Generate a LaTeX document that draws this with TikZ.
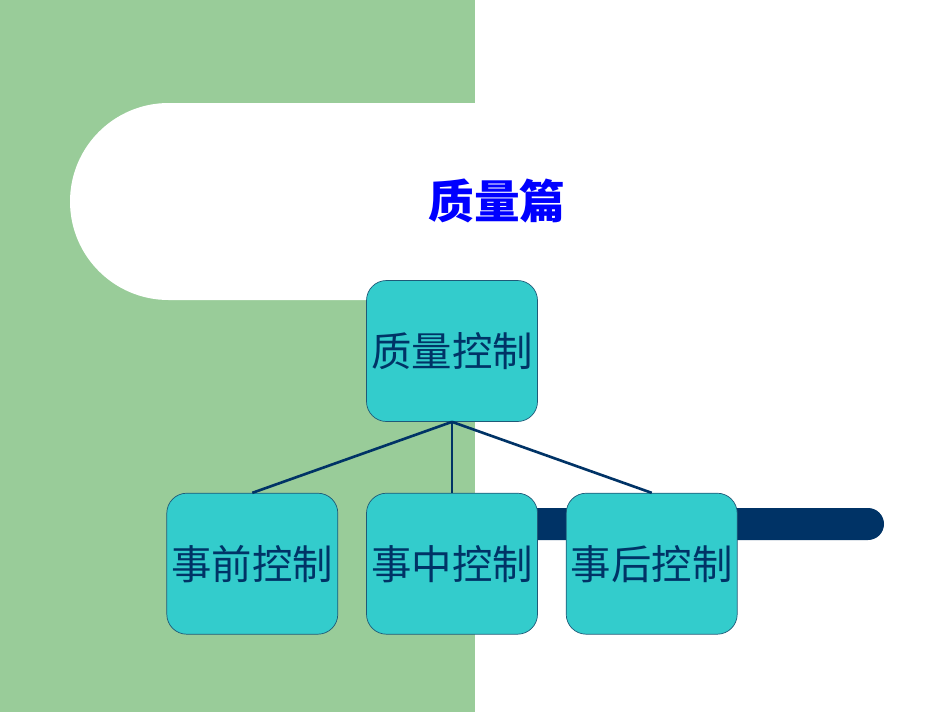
\documentclass[tikz,border=0pt]{standalone}
\usepackage{fontspec}
\newfontfamily\cjk{Noto Sans CJK SC}
\usepackage{tikz}
\usetikzlibrary{positioning}
\definecolor{slidegreen}{RGB}{153, 204, 153}
\definecolor{slidecyan}{RGB}{51, 204, 204}
\definecolor{slidenavy}{RGB}{0, 51, 102}
\definecolor{slideedge}{RGB}{31, 90, 120}
\definecolor{slidetitle}{RGB}{0, 0, 255}

\begin{document}
\begin{tikzpicture}[node distance=0.56cm,
    ctrlbox/.style={draw=slideedge, rounded corners=0.4cm, rectangle, fill=slidecyan, minimum width=3.42cm, minimum height=2.82cm, align=center, inner sep=0pt, text=slidenavy, font=\cjk\fontsize{23}{27}\selectfont}]
    % Background
    \useasboundingbox (0,0) rectangle (19,-14.26);
    \fill [white] (0,0) rectangle (19,-14.26);
    \fill [slidegreen] (0,0) rectangle (9.5,-14.24);
    \fill [white, rounded corners=1.97cm] (1.4,-2.06) rectangle (12,-6.0);
    \fill [slidenavy, rounded corners=0.32cm] (10,-10.16) rectangle (17.68,-10.8);

    % Title
    \node [text=slidetitle, font=\cjk\bfseries\fontsize{26}{30}\selectfont] (title) at (9.94,-4.02) {质量篇};

    % Nodes
    \node [ctrlbox] (quality) at (9.04,-7.02) {质量控制};
    \node [ctrlbox, below=1.42cm of quality] (during) {事中控制};
    \node [ctrlbox, left=of during] (before) {事前控制};
    \node [ctrlbox, right=of during] (after) {事后控制};

    % Tree edges
    \draw [slidenavy, line width=1.5pt] (quality.south) -- (before.north);
    \draw [slidenavy, line width=1.5pt] (quality.south) -- (during.north);
    \draw [slidenavy, line width=1.5pt] (quality.south) -- (after.north);
\end{tikzpicture}
\end{document}
